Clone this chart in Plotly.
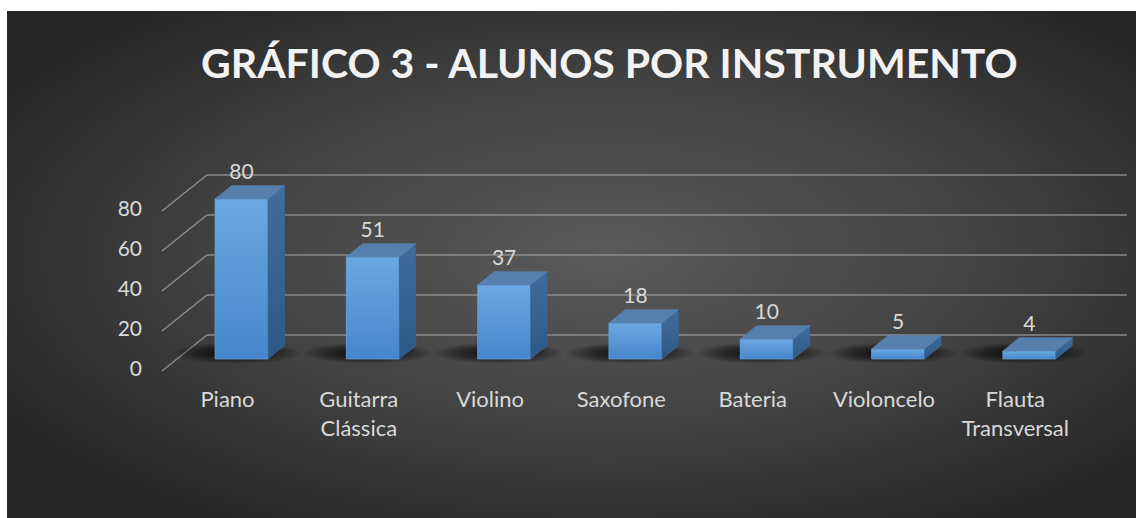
import base64
import numpy as np
import plotly.graph_objects as go

# ---------------- data ----------------
categories = ["Piano", "Guitarra<br>Clássica", "Violino", "Saxofone", "Bateria",
              "Violoncelo", "Flauta<br>Transversal"]
values = [80, 51, 37, 18, 10, 5, 4]
tick_values = [0, 20, 40, 60, 80]
title_text = "GRÁFICO 3 - ALUNOS POR INSTRUMENTO"

# ---------------- layout constants (pixels) ----------------
W, H = 1136, 518
X0_PX, STEP_PX = 241.5, 131.3      # first category centre, category step
BASE_PX, UNIT_PX = 359.0, 2.0       # bar front base, pixels per unit
AXIS_PX = 384.0                     # x-axis line position
LABEL_SHIFT_PX = -14                # category labels sit on the front plane


def px_to_x(px):
    return (px - X0_PX) / STEP_PX


x_range = [px_to_x(0), px_to_x(W)]
y_range = [-(AXIS_PX - BASE_PX) / UNIT_PX, BASE_PX / UNIT_PX]
y_domain = [1 - AXIS_PX / H, 1]

BAR_W = 53 / STEP_PX
DEPTH_X = 16.5 / STEP_PX
DEPTH_Y = 13.3 / UNIT_PX
WALL_LEFT = px_to_x(207)
FRONT_LEFT = px_to_x(162)
RIGHT_END = px_to_x(1127)
WALL_DY = (BASE_PX - 335) / UNIT_PX
FRONT_DY = (BASE_PX - 371) / UNIT_PX

FONT = "Lato"
TXT = "#d9d9d9"

idx = list(range(len(categories)))
fig = go.Figure()

# gridlines (back wall + oblique side wall)
gx, gy = [], []
for v in tick_values:
    gx += [FRONT_LEFT, WALL_LEFT, RIGHT_END, None]
    gy += [v + FRONT_DY, v + WALL_DY, v + WALL_DY, None]
fig.add_trace(go.Scatter(x=gx, y=gy, mode="lines",
                         line=dict(color="rgba(150,150,150,0.85)", width=1.6),
                         hoverinfo="skip", showlegend=False))

# y tick labels
fig.add_trace(go.Scatter(x=[px_to_x(142)] * len(tick_values),
                         y=[v + FRONT_DY for v in tick_values],
                         text=[str(v) for v in tick_values], mode="text",
                         textposition="middle left",
                         textfont=dict(family=FONT, size=21, color=TXT),
                         hoverinfo="skip", showlegend=False))

# shadows on the floor
t = np.linspace(0, 2 * np.pi, 80)
for i in idx:
    fig.add_trace(go.Scatter(
        x=list(i - 0.04 + 0.5 * np.cos(t)), y=list(3.0 + 5.5 * np.sin(t)),
        mode="lines", fill="toself", line=dict(width=0),
        fillgradient=dict(type="radial",
                          colorscale=[[0, "rgba(0,0,0,0.9)"], [0.6, "rgba(0,0,0,0.45)"],
                                      [1, "rgba(0,0,0,0)"]]),
        hoverinfo="skip", showlegend=False))

# front faces (bars)
fig.add_trace(go.Bar(x=idx, y=values, width=BAR_W,
                     marker=dict(color="#5b9bd5", line=dict(width=0)),
                     hovertemplate="%{y}<extra></extra>", showlegend=False))

for i, v in zip(idx, values):
    l, r = i - BAR_W / 2, i + BAR_W / 2
    # front gradient overlay
    fig.add_trace(go.Scatter(
        x=[l, r, r, l, l], y=[0, 0, v, v, 0], mode="lines", fill="toself",
        line=dict(width=0.8, color="#5d9bd8"),
        fillgradient=dict(type="vertical",
                          colorscale=[[0, "#4686cb"], [1, "#6ca8e1"]]),
        hoverinfo="skip", showlegend=False))
    # side face
    fig.add_trace(go.Scatter(
        x=[r, r + DEPTH_X, r + DEPTH_X, r, r],
        y=[0, DEPTH_Y, v + DEPTH_Y, v, 0], mode="lines", fill="toself",
        line=dict(width=0.6, color="#3a6697"),
        fillgradient=dict(type="vertical",
                          colorscale=[[0, "#2d5886"], [1, "#416c9d"]]),
        hoverinfo="skip", showlegend=False))
    # top face
    fig.add_trace(go.Scatter(
        x=[l, r, r + DEPTH_X, l + DEPTH_X, l],
        y=[v, v, v + DEPTH_Y, v + DEPTH_Y, v], mode="lines", fill="toself",
        fillcolor="#577fae", line=dict(width=0.6, color="#5b84b4"),
        hoverinfo="skip", showlegend=False))

# value labels
fig.add_trace(go.Scatter(x=idx, y=[v + 12.5 for v in values],
                         text=[str(v) for v in values], mode="text",
                         textposition="middle center",
                         textfont=dict(family=FONT, size=21, color=TXT),
                         hoverinfo="skip", showlegend=False))

# background (radial gradient)
bw, bh = W - 7, H - 11
svg = (f'<svg xmlns="http://www.w3.org/2000/svg" width="{bw}" height="{bh}" '
       f'viewBox="0 0 {bw} {bh}" preserveAspectRatio="none"><defs>'
       '<radialGradient id="g" cx="0.53" cy="0.48" r="0.62">'
       '<stop offset="0" stop-color="#5a5a5a"/>'
       '<stop offset="0.55" stop-color="#424242"/>'
       '<stop offset="1" stop-color="#262626"/></radialGradient></defs>'
       f'<rect width="{bw}" height="{bh}" fill="url(#g)"/></svg>')
src = "data:image/svg+xml;base64," + base64.b64encode(svg.encode()).decode()

fig.update_layout(
    width=W, height=H,
    margin=dict(l=0, r=0, t=0, b=0),
    paper_bgcolor="white", plot_bgcolor="rgba(0,0,0,0)",
    images=[dict(source=src, xref="paper", yref="paper", x=7 / W, y=1 - 11 / H,
                 sizex=bw / W, sizey=bh / H, sizing="stretch",
                 xanchor="left", yanchor="top", layer="below")],
    xaxis=dict(range=x_range, domain=[0, 1],
               tickvals=[i + LABEL_SHIFT_PX / STEP_PX for i in idx],
               ticktext=categories,
               showgrid=False, zeroline=False, showline=False, ticks="",
               tickfont=dict(family=FONT, size=22, color=TXT), fixedrange=True),
    yaxis=dict(range=y_range, domain=y_domain, showgrid=False, zeroline=False,
               showline=False, showticklabels=False, ticks="", fixedrange=True),
    annotations=[dict(text=title_text, xref="paper", yref="paper",
                      x=609 / W, y=1 - 63 / H, xanchor="center", yanchor="middle",
                      showarrow=False,
                      font=dict(family=FONT, size=41, color="#f2f2f2", weight="bold"))],
    bargap=0,
)

fig.write_html("out.html", config={"displayModeBar": False},
               post_script="document.body.style.margin='0';document.body.style.padding='0';")
